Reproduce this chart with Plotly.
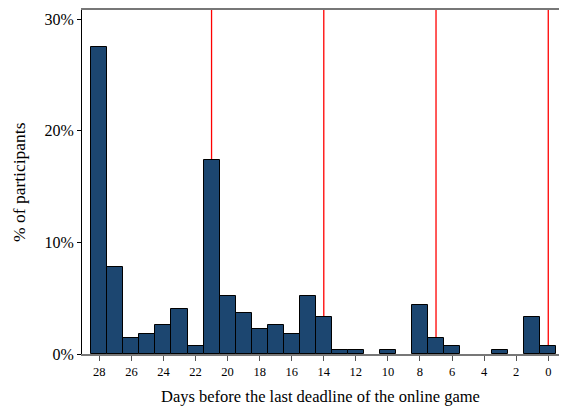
import plotly.graph_objects as go

days = list(range(28, -1, -1))
pct = [27.5, 7.8, 1.45, 1.82, 2.6, 4.0, 0.7, 17.4, 5.2, 3.65, 2.2, 2.6, 1.82, 5.2, 3.3,
       0.36, 0.36, 0.0, 0.36, 0.0, 4.4, 1.45, 0.72, 0.0, 0.0, 0.36, 0.0, 3.3, 0.72]
deadlines = [21, 14, 7, 0]
ytick_vals = [0, 10, 20, 30]
ytick_text = ["0%", "10%", "20%", "30%"]
xtick_vals = list(range(28, -1, -2))
x_title = "Days before the last deadline of the online game"
y_title = "% of participants"

fig = go.Figure()
fig.add_trace(go.Bar(x=days, y=[v if v > 0 else None for v in pct], width=1,
                     marker=dict(color="#1c4670", line=dict(color="black", width=1)),
                     showlegend=False))
for d in deadlines:
    fig.add_shape(type="line", x0=d, x1=d, y0=0, y1=1, xref="x", yref="paper",
                  line=dict(color="#ff0000", width=1.3), layer="below")

font = "Liberation Serif"
fig.add_annotation(text=x_title, x=0.5, y=0, xref="paper", yref="paper",
                   xanchor="center", yanchor="middle", yshift=-42, showarrow=False,
                   font=dict(size=16.5, family=font, color="black"))
fig.add_annotation(text=y_title, x=0, y=0.5, xref="paper", yref="paper", textangle=-90,
                   xanchor="center", yanchor="middle", xshift=-63, showarrow=False,
                   font=dict(size=17.5, family=font, color="black"))
fig.update_layout(
    width=551, height=398,
    margin=dict(l=74, r=0, t=2, b=52),
    plot_bgcolor="white", paper_bgcolor="white",
    bargap=0,
    font=dict(family=font, color="black"),
    xaxis=dict(range=[29.08, -0.67], tickvals=xtick_vals, ticks="outside", ticklen=5,
               tickcolor="#555", showline=True, linecolor="#777", linewidth=2, mirror=True,
               showgrid=False, zeroline=False, tickfont=dict(size=12.5, family=font),
               automargin=False),
    yaxis=dict(range=[0, 30.83], tickvals=ytick_vals, ticktext=ytick_text, ticks="outside",
               ticklen=4, tickcolor="black", showline=True, linecolor="black", linewidth=1,
               showgrid=False, zeroline=False, tickfont=dict(size=16, family=font),
               automargin=False),
)
fig.write_html("out.html")
